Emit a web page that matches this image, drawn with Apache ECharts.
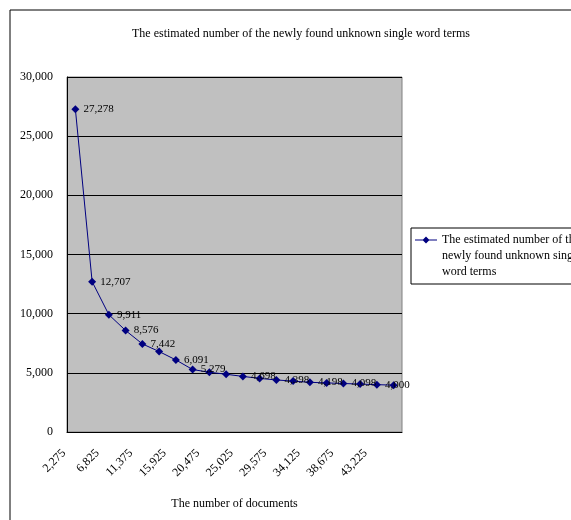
<!DOCTYPE html>
<html>
<head>
<meta charset="utf-8">
<script src="https://cdn.jsdelivr.net/npm/echarts@6/dist/echarts.min.js"></script>
<style>html,body{margin:0;padding:0;background:#fff}#c{width:571px;height:520px}</style>
</head>
<body>
<div id="c"></div>
<script>
var documentCounts = [2275, 4550, 6825, 9100, 11375, 13650, 15925, 18200, 20475, 22750, 25025, 27300, 29575, 31850, 34125, 36400, 38675, 40950, 43225, 45500];
var estimatedTerms = [27278, 12707, 9911, 8576, 7442, 6800, 6091, 5279, 5050, 4880, 4698, 4530, 4398, 4300, 4198, 4150, 4098, 4050, 4000, 3960];
var labeledIndices = [0, 1, 2, 3, 4, 6, 7, 10, 12, 14, 16, 18];
var yTicks = [0, 5000, 10000, 15000, 20000, 25000, 30000];

var fmt = function (v) { return Number(v).toLocaleString('en-US'); };
var categories = documentCounts.map(fmt);
var seriesData = estimatedTerms.map(function (v, i) {
  return { value: v, label: { show: labeledIndices.indexOf(i) >= 0 } };
});

var serif = 'Liberation Serif, Times New Roman, serif';
var legendIcon = 'path://M0,-8 M0,-0.6 L22,-0.6 L22,0.6 L0,0.6 Z M11,-3.5 L14.5,0 L11,3.5 L7.5,0 Z M0,40';
var chart = echarts.init(document.getElementById('c'), null, { renderer: 'canvas' });
chart.setOption({
  animation: false,
  backgroundColor: '#fff',
  title: {
    text: 'The estimated number of the newly found unknown single word terms',
    left: 296, top: 23, textAlign: 'center',
    textStyle: { fontFamily: serif, fontSize: 12, fontWeight: 'normal', color: '#000' }
  },
  graphic: [{
    type: 'rect', shape: { x: 10, y: 10, width: 700, height: 700 },
    style: { fill: 'none', stroke: '#000', lineWidth: 1 }, z: -1
  }],
  legend: {
    left: 411, top: 228,
    orient: 'vertical',
    padding: [4, 20, 4, 4],
    borderColor: '#000', borderWidth: 1,
    itemWidth: 22, itemHeight: 48,
    itemGap: 0,
    textStyle: { fontFamily: serif, fontSize: 12, color: '#000', lineHeight: 16 },
    formatter: function () { return 'The estimated number of the\nnewly found unknown single\nword terms'; },
    data: [{ name: 'series', icon: legendIcon }]
  },
  grid: { left: 67, right: 169, top: 77, bottom: 88, show: true, backgroundColor: '#C0C0C0', borderColor: '#808080', borderWidth: 1 },
  xAxis: {
    type: 'category', data: categories, boundaryGap: true,
    name: 'The number of documents', nameLocation: 'middle', nameGap: 66,
    nameTextStyle: { fontFamily: serif, fontSize: 12, color: '#000' },
    axisLine: { lineStyle: { color: '#000', width: 1 } },
    axisTick: { inside: true, length: 5, interval: 0, lineStyle: { color: '#000' } },
    axisLabel: { interval: 1, rotate: 45, fontFamily: serif, fontSize: 12, color: '#000', margin: 8, padding: [0, 16, 0, 0] },
    splitLine: { show: false }
  },
  yAxis: {
    type: 'value', min: 0, max: 30000, interval: 5000,
    axisLine: { show: true, lineStyle: { color: '#000', width: 1 } },
    axisTick: { show: true, inside: true, length: 5, lineStyle: { color: '#000' } },
    axisLabel: { fontFamily: serif, fontSize: 12, color: '#000', margin: 14, formatter: function (v) { return yTicks.indexOf(v) >= 0 ? fmt(v) : ''; } },
    splitLine: { show: true, lineStyle: { color: '#000', width: 1 } }
  },
  series: [{
    name: 'series', type: 'line', data: seriesData,
    symbol: 'diamond', symbolSize: 8,
    lineStyle: { color: '#000080', width: 1 },
    itemStyle: { color: '#000080' },
    label: { position: 'right', distance: 4, fontFamily: serif, fontSize: 11, color: '#000', formatter: function (p) { return fmt(p.value); } }
  }]
});
</script>
</body>
</html>
